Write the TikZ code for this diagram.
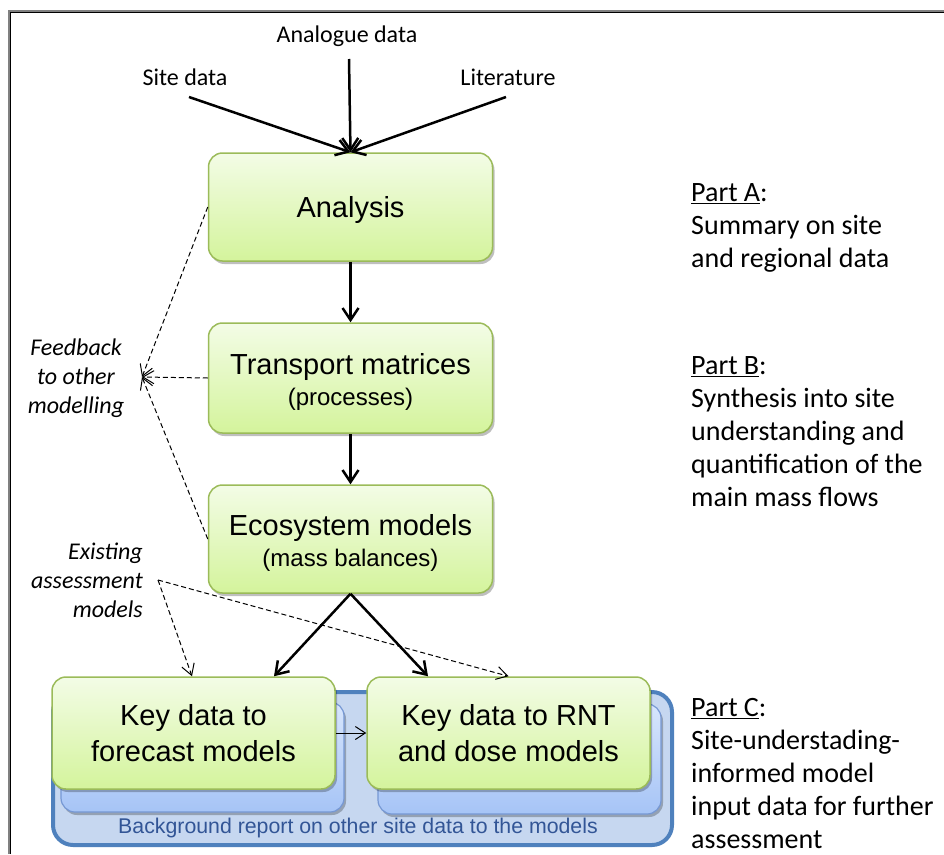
\documentclass[tikz,border=0pt]{standalone}
\usepackage{fontspec}
\setmainfont{Liberation Sans}
\newfontfamily\calfont{Carlito}
\usetikzlibrary{arrows.meta,shadows}
\definecolor{gborder}{RGB}{155,187,89}
\definecolor{gtop}{RGB}{243,252,230}
\definecolor{gbot}{RGB}{212,244,156}
\definecolor{bborder}{RGB}{79,129,189}
\definecolor{bfill}{RGB}{198,215,240}
\definecolor{ibtop}{RGB}{216,230,252}
\definecolor{ibbot}{RGB}{166,196,246}
\definecolor{ibborder}{RGB}{118,152,212}
\definecolor{btext}{RGB}{50,85,150}
\definecolor{framegray}{RGB}{128,128,128}
\begin{document}
\begin{tikzpicture}[x=1pt,y=-1pt,
  gbox/.style={draw=gborder, line width=1.5pt, rounded corners=14pt,
    top color=gtop, bottom color=gbot, minimum width=284pt, minimum height=108pt,
    align=center, inner sep=0pt,
    font=\fontsize{29}{33}\selectfont,
    drop shadow={shadow xshift=2pt, shadow yshift=-3pt, opacity=0.25, fill=black}},
  ibox/.style={draw=ibborder, line width=1.2pt, rounded corners=14pt,
    top color=ibtop, bottom color=ibbot, minimum width=283pt, minimum height=110pt,
    drop shadow={shadow xshift=2pt, shadow yshift=-3pt, opacity=0.25, fill=black}},
  obox/.style={draw=bborder, line width=4pt, rounded corners=20pt, fill=bfill,
    minimum width=619pt, minimum height=153pt},
  lbl/.style={font=\calfont\fontsize{24}{29}\selectfont, inner sep=0pt},
  ital/.style={font=\calfont\itshape\fontsize{24}{29}\selectfont, inner sep=0pt},
  part/.style={font=\calfont\fontsize{28}{33}\selectfont, align=left, inner sep=0pt, anchor=north west},
  bigarrow/.style={line width=2.5pt, -{Straight Barb[length=12pt,width=16pt,line width=2.5pt]}},
  thinarrow/.style={line width=1pt, -{Straight Barb[length=10pt,width=13pt,line width=1pt]}},
  dasharrow/.style={line width=1pt, dash pattern=on 5pt off 3pt, -{Straight Barb[length=11pt,width=13pt,line width=1pt]}}
]
\useasboundingbox (0,0) rectangle (944,854);
% frame
\draw[framegray, line width=2.5pt] (8.75,854) -- (8.75,11.25) -- (944,11.25);
\draw[black, line width=1pt] (10.5,854) -- (10.5,12.5) -- (944,12.5);

% top labels
\node[lbl] (site) at (185,77) {Site data};
\node[lbl] (analog) at (347,36) {Analogue data};
\node[lbl] (lit) at (508,77) {Literature};
\coordinate (sitetail) at (189,97);
\coordinate (analogtail) at (349,59);
\coordinate (littail) at (506,97);

% main boxes
\node[gbox] (ana) at (350.5,207) {\rule{0pt}{27pt}Analysis};
\node[gbox, minimum height=110pt] (tra) at (350.5,378) {\rule{0pt}{28pt}Transport matrices\\[-2pt]{\fontsize{24}{30}\selectfont (processes)}};
\node[gbox] (eco) at (350.5,539) {\rule{0pt}{28pt}Ecosystem models\\[-2pt]{\fontsize{24}{30}\selectfont (mass balances)}};

% background area
\node[obox] (bg) at (362.5,768.5) {};
\node[ibox] (ibl) at (202.5,757) {};
\node[ibox] (ibr) at (519.5,759) {};
\node[inner sep=0pt, text=btext, font=\fontsize{21.3}{25}\selectfont] (bgtxt) at (358,828) {Background report on other site data to the models};

\node[gbox, minimum width=283pt, minimum height=112pt, font=\fontsize{29}{36}\selectfont] (fc) at (193.5,733) {Key data to\\forecast models};
\node[gbox, minimum width=283pt, minimum height=112pt, font=\fontsize{29}{36}\selectfont] (rnt) at (508.5,733) {Key data to RNT\\and dose models};

% solid arrows
\draw[bigarrow] (sitetail) -- (ana.north);
\draw[bigarrow] (analogtail) -- (ana.north);
\draw[bigarrow] (littail) -- (ana.north);
\draw[bigarrow] (ana.south) -- (tra.north);
\draw[bigarrow] (tra.south) -- (eco.north);
\draw[bigarrow] (eco.south) -- ([xshift=80.5pt]fc.north);
\draw[bigarrow] (eco.south) -- ([xshift=-80.5pt]rnt.north);
\draw[thinarrow] (fc.east) -- (rnt.west);

% feedback
\node[ital, align=center] (fb) at (76,378) {Feedback\\to other\\modelling};
\coordinate (fbtip) at (142,377);
\draw[dasharrow] (ana.west) -- (fbtip);
\draw[dasharrow] (tra.west) -- (fbtip);
\draw[dasharrow] (eco.west) -- (fbtip);

% existing
\node[ital, align=right, anchor=east] (ex) at (143,580) {Existing\\assessment\\models};
\coordinate (extail) at (158,580);
\draw[dasharrow] (extail) -- ([xshift=-1.5pt]fc.north);
\draw[dasharrow] (extail) -- (rnt.north);

% right texts
\node[part] (pa) at (691,183) {\underline{Part A}:\\Summary on site\\and regional data};
\node[part] (pb) at (691,356) {\underline{Part B}:\\Synthesis into site\\understanding and\\quantification of the\\main mass flows};
\node[part] (pc) at (691,698) {\underline{Part C}:\\Site-understading-\\informed model\\input data for further\\assessment};
\end{tikzpicture}
\end{document}
